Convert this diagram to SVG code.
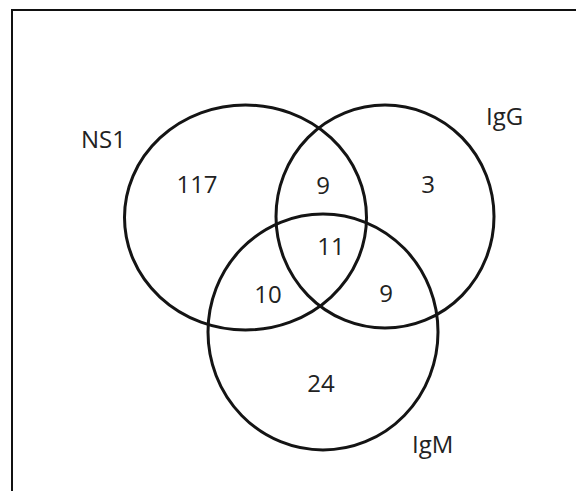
<svg xmlns="http://www.w3.org/2000/svg" width="576" height="491" viewBox="0 0 576 491">
  <style>
    .set { fill: none; stroke: #141414; stroke-width: 3; }
    .frame { fill: none; stroke: #111; stroke-width: 2; }
    text { font-family: "Open Sans", "Liberation Sans", sans-serif; font-size: 24px; fill: #222; }
    .count { text-anchor: middle; }
  </style>
  <rect width="576" height="491" fill="#fff"/>
  <!-- outer frame, open to the right and bottom edges -->
  <rect class="frame" x="12" y="10" width="600" height="520"/>

  <g id="set-ns1">
    <ellipse class="set" cx="245.5" cy="217.5" rx="121" ry="112.5"/>
    <text x="81" y="148">NS1</text>
  </g>
  <g id="set-igg">
    <ellipse class="set" cx="385" cy="216.5" rx="109" ry="111.5"/>
    <text x="486" y="125">IgG</text>
  </g>
  <g id="set-igm">
    <ellipse class="set" cx="323" cy="332" rx="115" ry="118"/>
    <text x="412" y="453">IgM</text>
  </g>

  <g id="region-counts">
    <text class="count" x="197" y="193">117</text>
    <text class="count" x="323" y="194">9</text>
    <text class="count" x="428" y="193">3</text>
    <text class="count" x="331" y="255">11</text>
    <text class="count" x="268" y="303">10</text>
    <text class="count" x="386" y="302">9</text>
    <text class="count" x="321" y="392">24</text>
  </g>

  <g id="connectors"/>
</svg>
